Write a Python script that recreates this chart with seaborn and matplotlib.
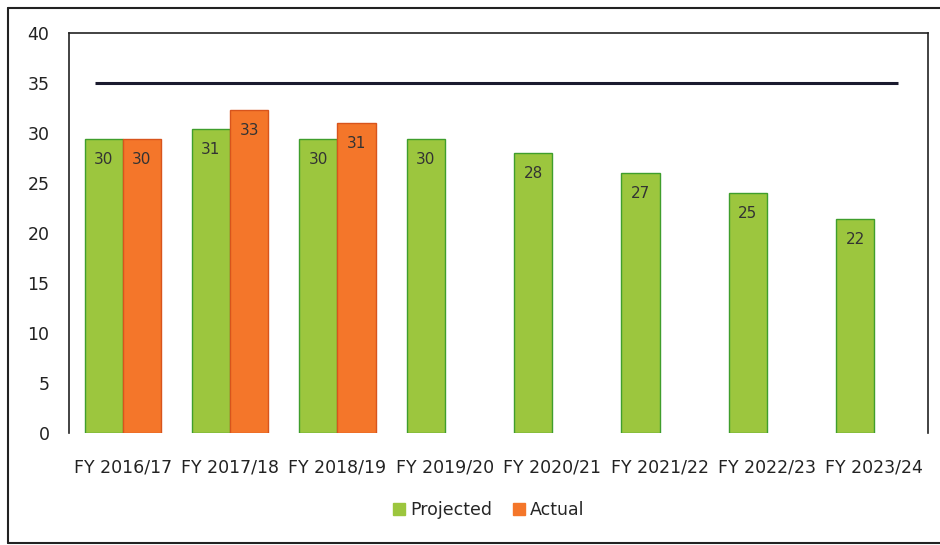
import pandas as pd
import matplotlib.pyplot as plt
import seaborn as sns
from matplotlib.patches import Patch
from matplotlib.lines import Line2D

# values
years = ["FY 2016/17", "FY 2017/18", "FY 2018/19", "FY 2019/20",
         "FY 2020/21", "FY 2021/22", "FY 2022/23", "FY 2023/24"]
projected = [29.4, 30.4, 29.4, 29.4, 28.0, 26.0, 24.0, 21.4]
actual = [29.4, 32.3, 31.0]
projected_labels = ["30", "31", "30", "30", "28", "27", "25", "22"]
actual_labels = ["30", "33", "31"]
target = 35.0

green = "#9cc63e"
green_edge = "#3f9e2c"
orange = "#f4762a"
orange_edge = "#d8541c"

rows = []
for i, y in enumerate(years):
    rows.append({"Year": y, "Series": "Projected", "Value": projected[i]})
    if i < len(actual):
        rows.append({"Year": y, "Series": "Actual", "Value": actual[i]})
df = pd.DataFrame(rows)

sns.set_style("white")
plt.rcParams['font.family'] = ['DejaVu Sans']

fig = plt.figure(figsize=(9.4, 5.45), dpi=100)
ax = fig.add_axes([0.0734, 0.2055, 0.9138, 0.734])

sns.barplot(data=df, x="Year", y="Value", hue="Series", order=years,
            hue_order=["Projected", "Actual"],
            palette={"Projected": green, "Actual": orange}, saturation=1,
            width=0.71, gap=0, errorbar=None, legend=False, ax=ax,
            linewidth=1)

for c, ec, labs in zip(ax.containers, [green_edge, orange_edge],
                       [projected_labels, actual_labels]):
    for p in c:
        p.set_edgecolor(ec)
    ax.bar_label(c, labels=labs[:len(c)], padding=-20, fontsize=11,
                 color="#333333")

# target line
ax.hlines(target, -0.26, 7.22, color="#1a1a2e", linewidth=2.2)

ax.set_xlim(-0.5, 7.5)
ax.set_ylim(0, 40)
ax.set_yticks(range(0, 41, 5))
ax.set_xlabel("")
ax.set_ylabel("")
ax.tick_params(axis="both", length=0, labelsize=12.5, colors="#222222")
ax.tick_params(axis="x", pad=18)
ax.tick_params(axis="y", pad=14)
for side in ["left", "right", "top"]:
    ax.spines[side].set_visible(True)
    ax.spines[side].set_color("#222222")
    ax.spines[side].set_linewidth(1.2)
ax.spines["bottom"].set_visible(False)

handles = [Patch(facecolor=green, edgecolor=green), Patch(facecolor=orange, edgecolor=orange)]
fig.legend(handles, ["Projected", "Actual"], loc="center", bbox_to_anchor=(0.52, 0.064),
           ncol=2, frameon=False, fontsize=12.5, handlelength=0.7, handleheight=0.7,
           handletextpad=0.3, columnspacing=1.2)

# outer frame of the scanned figure
fx0, fx1 = 8 / 940, 1.0
fy0, fy1 = 1 - 543 / 545, 1 - 8 / 545
for xs, ys in [([fx0, fx0], [fy0, fy1]), ([fx0, fx1], [fy1, fy1]), ([fx0, fx1], [fy0, fy0])]:
    fig.add_artist(Line2D(xs, ys, transform=fig.transFigure, color="#222222", linewidth=1.5))

fig.savefig("out.png", dpi=100)
